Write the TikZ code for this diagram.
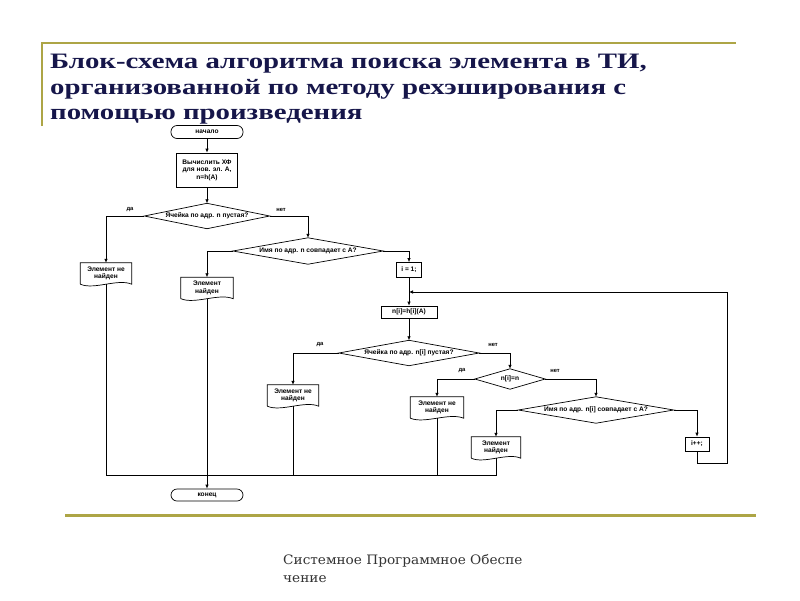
\documentclass[tikz,border=0pt]{standalone}
\usepackage{fontspec}
\setmainfont{Liberation Serif}
\setsansfont{Liberation Sans}
\newfontfamily\footfont{DejaVu Serif}
\usetikzlibrary{arrows.meta,calc}
\definecolor{olivea}{HTML}{ADA546}
\definecolor{titlecol}{HTML}{16164A}
\definecolor{footcol}{HTML}{333333}
\newcommand{\widetitle}[1]{\scalebox{1.31}[1]{#1}}
\newcommand{\widefoot}[1]{\scalebox{1.05}[1]{#1}}
\begin{document}
\begin{tikzpicture}[x=1pt,y=-1pt,
  flow/.style={draw=black, line width=0.7pt},
  arr/.style={flow, -{Latex[length=4pt,width=3.5pt]}},
  txt/.style={font=\sffamily\bfseries\fontsize{6.6}{7.4}\selectfont},
  box/.style={draw=black, line width=0.7pt, rectangle, inner sep=0pt, txt, align=center},
  term/.style={box, rounded corners=6pt},
  dia/.style={rectangle, inner sep=0pt, txt},
  docbox/.style={rectangle, inner sep=0pt, txt, align=center, minimum width=51pt, minimum height=21pt},
  lbl/.style={font=\sffamily\bfseries\fontsize{5.8}{6}\selectfont, inner sep=0pt},
  title/.style={font=\bfseries\fontsize{22}{26}\selectfont, text=titlecol, inner sep=0pt, anchor=base west},
  foot/.style={font=\footfont\fontsize{13}{15}\selectfont, text=footcol, inner sep=0pt, anchor=base west}
]
\useasboundingbox (0,0) rectangle (800,600);
\fill[white] (0,0) rectangle (800,600);

% frame lines
\draw[olivea, line width=2pt] (42,126) -- (42,43) -- (736,43);
\draw[olivea, line width=3pt] (65,515) -- (756,515);

% title
\node[title] (t1) at (50,68.5) {\widetitle{Блок-схема алгоритма поиска элемента в ТИ,}};
\node[title] (t2) at (50,94.5) {\widetitle{организованной по методу рехэширования с}};
\node[title] (t3) at (50,119.5) {\widetitle{помощью произведения}};

% footer
\node[foot] (f1) at (283,564) {\widefoot{Системное Программное Обеспе}};
\node[foot] (f2) at (283,582) {\widefoot{чение}};

% nodes
\node[term, minimum width=72pt, minimum height=13pt] (start) at (207,132) {начало};
\node[box, minimum width=61pt, minimum height=34pt] (calc) at (207,170) {Вычислить ХФ\\для нов. эл. А,\\n=h(A)};
\node[dia, minimum width=125pt, minimum height=25pt] (q1) at (207,216) {Ячейка по адр. n пустая?};
\node[docbox] (d1) at (106,273.5) {Элемент не\\найден};
\node[dia, minimum width=150pt, minimum height=26pt] (q2) at (308,251) {Имя по адр. n совпадает с A?};
\node[docbox, minimum width=52pt] (d2) at (207,288) {Элемент\\найден};
\node[box, minimum width=25pt, minimum height=15pt] (i1) at (409,270) {i = 1;};
\node[box, minimum width=56pt, minimum height=12pt] (nh) at (409,312) {n[i]=h[i](A)};
\node[dia, minimum width=140pt, minimum height=25pt] (q3) at (409,353) {Ячейка по адр. n[i] пустая?};
\node[docbox] (d3) at (293,395.5) {Элемент не\\найден};
\node[dia, minimum width=70pt, minimum height=20pt] (q4) at (510,379) {n[i]=n};
\node[docbox, minimum width=53pt] (d4) at (437,407.5) {Элемент не\\найден};
\node[dia, minimum width=155pt, minimum height=26pt] (q5) at (596,410) {Имя по адр. n[i] совпадает с A?};
\node[docbox, minimum width=49pt] (d5) at (496,447.5) {Элемент\\найден};
\node[box, minimum width=24pt, minimum height=14pt] (inc) at (697,444) {i++;};
\node[term, minimum width=72pt, minimum height=12pt] (end) at (207,495) {конец};

% diamond outlines
\foreach \n in {q1,q2,q3,q4,q5}
  \draw[flow] (\n.west) -- (\n.north) -- (\n.east) -- (\n.south) -- cycle;
% document outlines
\foreach \n in {d1,d2,d3,d4,d5}
  \draw[flow] (\n.south west) -- (\n.north west) -- (\n.north east) -- (\n.south east)
    .. controls ($(\n.south)+(12,-6)$) and ($(\n.south)+(-12,6)$) .. (\n.south west);

% labels
\node[lbl] (l1) at (130,210) {да};
\node[lbl] (l2) at (281,210) {нет};
\node[lbl] (l3) at (320,345) {да};
\node[lbl] (l4) at (493,345) {нет};
\node[lbl] (l5) at (462,371) {да};
\node[lbl] (l6) at (555,371) {нет};

% helper coordinates
\coordinate (loopbr) at (727,463);
\coordinate (join) at (409,292);
\coordinate (bl) at (106,475);
\coordinate (br) at (496,475);

% connectors
\draw[arr] (start.south) -- (calc.north);
\draw[arr] (calc.south) -- (q1.north);
\draw[arr] (q1.west) -| (d1.north);
\draw[arr] (q1.east) -| (q2.north);
\draw[arr] (q2.west) -| (d2.north);
\draw[arr] (q2.east) -| (i1.north);
\draw[arr] (i1.south) -- (nh.north);
\draw[arr] (inc.south) |- (loopbr) |- (join);
\draw[arr] (nh.south) -- (q3.north);
\draw[arr] (q3.west) -| (d3.north);
\draw[arr] (q3.east) -| (q4.north);
\draw[arr] (q4.west) -| (d4.north);
\draw[arr] (q4.east) -| (q5.north);
\draw[arr] (q5.west) -| (d5.north);
\draw[arr] (q5.east) -| (inc.north);
\draw[flow] (d1.south) -- (bl) -- (br) -- (d5.south);
\draw[flow] (d3.south) -- (d3.south |- bl);
\draw[flow] (d4.south) -- (d4.south |- bl);
\draw[arr] (d2.south) -- (end.north);
\end{tikzpicture}
\end{document}
